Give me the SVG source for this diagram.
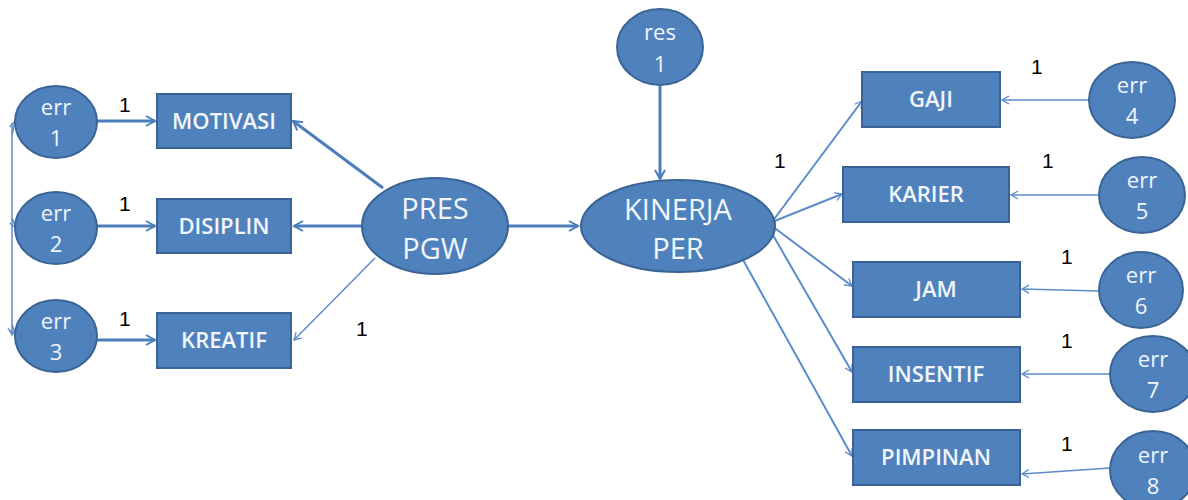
<svg xmlns="http://www.w3.org/2000/svg" width="1188" height="500" viewBox="0 0 1188 500">
<defs>
<marker id="ah" markerWidth="12" markerHeight="12" refX="10" refY="6" orient="auto" markerUnits="userSpaceOnUse">
<path d="M1,1 L10,6 L1,11" fill="none" stroke="#4A7EBB" stroke-width="2"/>
</marker>
<marker id="ahs" markerWidth="10" markerHeight="10" refX="8" refY="5" orient="auto" markerUnits="userSpaceOnUse">
<path d="M1,1 L8,5 L1,9" fill="none" stroke="#5B8BC9" stroke-width="1.3"/>
</marker>
</defs>
<style>
.n{fill:#4F81BD;stroke:#3A6495;stroke-width:2}
.bt{font-family:"Open Sans","Liberation Sans",sans-serif;font-size:22px;font-weight:600;fill:#F2F6FB;text-anchor:middle}
.et{font-family:"Open Sans","Liberation Sans",sans-serif;font-size:29px;fill:#F2F6FB;text-anchor:middle}
.ct{font-family:"Open Sans","Liberation Sans",sans-serif;font-size:22px;fill:#F2F6FB;text-anchor:middle}
.l{font-family:"Liberation Sans",sans-serif;font-size:21px;fill:#000}
.c{stroke:#4A7EBB;fill:none}
.t{stroke-width:3;marker-end:url(#ah)}
.s{stroke-width:1.5;stroke:#5B8BC9;marker-end:url(#ahs)}
</style>
<rect width="1188" height="500" fill="#fff"/>
<g id="connectors">
<line class="c s" x1="12" y1="123" x2="12" y2="335" marker-end="none"/>
<line class="c s" x1="12" y1="135" x2="15" y2="121"/>
<line class="c s" x1="12" y1="218" x2="16" y2="228"/>
<line class="c s" x1="12" y1="325" x2="16" y2="335"/>
<line class="c t" x1="97" y1="121" x2="155" y2="121"/>
<line class="c t" x1="97" y1="226" x2="155" y2="226"/>
<line class="c t" x1="97" y1="340" x2="155" y2="340"/>
<line class="c t" x1="383" y1="188" x2="293" y2="121"/>
<line class="c t" x1="362" y1="226" x2="294" y2="226"/>
<line class="c s" x1="375" y1="258" x2="294" y2="340"/>
<line class="c t" x1="508" y1="226" x2="578" y2="226"/>
<line class="c t" x1="660" y1="86" x2="660" y2="179"/>
<line class="c s" x1="772" y1="222" x2="862" y2="101" style="stroke-width:2"/>
<line class="c s" x1="772" y1="222" x2="842" y2="194" style="stroke-width:2"/>
<line class="c s" x1="772" y1="226" x2="852" y2="286" style="stroke-width:2"/>
<line class="c s" x1="770" y1="230" x2="852" y2="372" style="stroke-width:2"/>
<line class="c s" x1="742" y1="258" x2="852" y2="456" style="stroke-width:2"/>
<line class="c s" x1="1089" y1="100" x2="1002" y2="100"/>
<line class="c s" x1="1099" y1="195" x2="1011" y2="195"/>
<line class="c s" x1="1099" y1="291" x2="1022" y2="289"/>
<line class="c s" x1="1110" y1="374" x2="1022" y2="374"/>
<line class="c s" x1="1110" y1="468" x2="1022" y2="474"/>
</g>
<g id="labels">
<text class="l" x="119" y="112">1</text>
<text class="l" x="119" y="211">1</text>
<text class="l" x="119" y="326">1</text>
<text class="l" x="356" y="336">1</text>
<text class="l" x="774" y="168">1</text>
<text class="l" x="1031" y="74">1</text>
<text class="l" x="1042" y="168">1</text>
<text class="l" x="1061" y="264">1</text>
<text class="l" x="1061" y="348">1</text>
<text class="l" x="1061" y="451">1</text>
</g>
<g id="err1"><ellipse class="n" cx="56" cy="122" rx="41" ry="36"/><text class="ct" x="56" y="115">err</text><text class="ct" x="56" y="146">1</text></g>
<g id="err2"><ellipse class="n" cx="56" cy="228" rx="41" ry="36"/><text class="ct" x="56" y="221">err</text><text class="ct" x="56" y="252">2</text></g>
<g id="err3"><ellipse class="n" cx="56" cy="336" rx="41" ry="36"/><text class="ct" x="56" y="329">err</text><text class="ct" x="56" y="360">3</text></g>
<g id="motivasi"><rect class="n" x="157" y="94" width="134" height="54"/><text class="bt" x="224" y="129">MOTIVASI</text></g>
<g id="disiplin"><rect class="n" x="157" y="199" width="134" height="54"/><text class="bt" x="224" y="234">DISIPLIN</text></g>
<g id="kreatif"><rect class="n" x="157" y="313" width="134" height="55"/><text class="bt" x="224" y="348">KREATIF</text></g>
<g id="prespgw"><ellipse class="n" cx="435" cy="226" rx="73" ry="48"/><text class="et" x="435" y="219">PRES</text><text class="et" x="435" y="259">PGW</text></g>
<g id="res1"><ellipse class="n" cx="660" cy="47" rx="43" ry="38"/><text class="ct" x="660" y="40">res</text><text class="ct" x="660" y="72">1</text></g>
<g id="kinerjaper"><ellipse class="n" cx="678" cy="226" rx="97" ry="46"/><text class="et" x="678" y="220">KINERJA</text><text class="et" x="678" y="259">PER</text></g>
<g id="gaji"><rect class="n" x="862" y="72" width="138" height="55"/><text class="bt" x="931" y="107">GAJI</text></g>
<g id="karier"><rect class="n" x="843" y="167" width="166" height="55"/><text class="bt" x="926" y="202">KARIER</text></g>
<g id="jam"><rect class="n" x="853" y="262" width="167" height="55"/><text class="bt" x="936" y="297">JAM</text></g>
<g id="insentif"><rect class="n" x="853" y="347" width="167" height="55"/><text class="bt" x="936" y="382">INSENTIF</text></g>
<g id="pimpinan"><rect class="n" x="853" y="430" width="167" height="55"/><text class="bt" x="936" y="465">PIMPINAN</text></g>
<g id="err4"><ellipse class="n" cx="1132" cy="100" rx="43" ry="38"/><text class="ct" x="1132" y="93">err</text><text class="ct" x="1132" y="124">4</text></g>
<g id="err5"><ellipse class="n" cx="1142" cy="195" rx="43" ry="38"/><text class="ct" x="1142" y="188">err</text><text class="ct" x="1142" y="219">5</text></g>
<g id="err6"><ellipse class="n" cx="1141" cy="290" rx="42" ry="38"/><text class="ct" x="1141" y="283">err</text><text class="ct" x="1141" y="314">6</text></g>
<g id="err7"><ellipse class="n" cx="1153" cy="374" rx="43" ry="38"/><text class="ct" x="1153" y="367">err</text><text class="ct" x="1153" y="398">7</text></g>
<g id="err8"><ellipse class="n" cx="1153" cy="470" rx="43" ry="39"/><text class="ct" x="1153" y="463">err</text><text class="ct" x="1153" y="494">8</text></g>
</svg>
